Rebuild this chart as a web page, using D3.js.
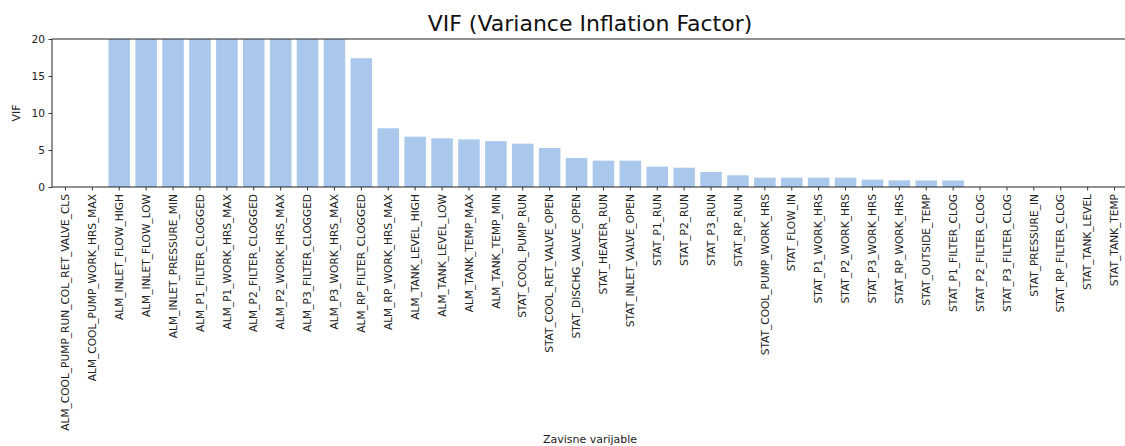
<!DOCTYPE html>
<html><head><meta charset="utf-8">
<script src="https://cdn.jsdelivr.net/npm/d3@7"></script>
<style>body{margin:0;background:#fff}svg{display:block}</style>
</head><body>
<script>
const categories = ["ALM_COOL_PUMP_RUN_COL_RET_VALVE_CLS","ALM_COOL_PUMP_WORK_HRS_MAX","ALM_INLET_FLOW_HIGH","ALM_INLET_FLOW_LOW","ALM_INLET_PRESSURE_MIN","ALM_P1_FILTER_CLOGGED","ALM_P1_WORK_HRS_MAX","ALM_P2_FILTER_CLOGGED","ALM_P2_WORK_HRS_MAX","ALM_P3_FILTER_CLOGGED","ALM_P3_WORK_HRS_MAX","ALM_RP_FILTER_CLOGGED","ALM_RP_WORK_HRS_MAX","ALM_TANK_LEVEL_HIGH","ALM_TANK_LEVEL_LOW","ALM_TANK_TEMP_MAX","ALM_TANK_TEMP_MIN","STAT_COOL_PUMP_RUN","STAT_COOL_RET_VALVE_OPEN","STAT_DISCHG_VALVE_OPEN","STAT_HEATER_RUN","STAT_INLET_VALVE_OPEN","STAT_P1_RUN","STAT_P2_RUN","STAT_P3_RUN","STAT_RP_RUN","STAT_COOL_PUMP_WORK_HRS","STAT_FLOW_IN","STAT_P1_WORK_HRS","STAT_P2_WORK_HRS","STAT_P3_WORK_HRS","STAT_RP_WORK_HRS","STAT_OUTSIDE_TEMP","STAT_P1_FILTER_CLOG","STAT_P2_FILTER_CLOG","STAT_P3_FILTER_CLOG","STAT_PRESSURE_IN","STAT_RP_FILTER_CLOG","STAT_TANK_LEVEL","STAT_TANK_TEMP"];
// values above 20 are cut off in the picture (very large VIF)
const vifValues = [0,0,100,100,100,100,100,100,100,100,100,17.4,7.93,6.8,6.57,6.43,6.2,5.86,5.27,3.92,3.56,3.56,2.75,2.61,2.03,1.58,1.26,1.26,1.26,1.26,0.99,0.9,0.88,0.88,0,0,0,0,0,0];
const yTicks = [0,5,10,15,20];
const title = "VIF (Variance Inflation Factor)";
const xLabel = "Zavisne varijable";
const yLabel = "VIF";

const W = 1125, H = 446;
const m = {left:52, top:39, right:-3, bottom:259};
const svg = d3.select("body").append("svg").attr("width",W).attr("height",H)
  .style("font-family","'DejaVu Sans', sans-serif");

const x = d3.scaleBand().domain(categories).range([m.left, W - m.right]).paddingInner(0.2).paddingOuter(0.1);
const y = d3.scaleLinear().domain([0,20]).range([H - m.bottom, m.top]);

svg.append("defs").append("clipPath").attr("id","clip")
  .append("rect").attr("x",m.left).attr("y",m.top).attr("width",W-m.left).attr("height",y(0)-m.top);

svg.append("g").attr("clip-path","url(#clip)")
  .selectAll("rect").data(categories).join("rect")
  .attr("x",d=>x(d)).attr("width",x.bandwidth())
  .attr("y",(d,i)=>y(Math.max(vifValues[i],0)))
  .attr("height",(d,i)=>y(0)-y(Math.max(vifValues[i],0)))
  .attr("fill","#a9c8eb");

const xAxis = svg.append("g").attr("transform",`translate(0,${y(0)})`)
  .call(d3.axisBottom(x).tickSize(3.5).tickPadding(3.5).tickSizeOuter(0));
xAxis.select(".domain").remove();
xAxis.selectAll("text").attr("transform","rotate(-90)").attr("text-anchor","end")
  .attr("x",-7).attr("y",0).attr("dy","0.35em")
  .style("font-size","10.6px").style("fill","#222").style("font-family","'DejaVu Sans', sans-serif");
xAxis.selectAll("line").attr("stroke","#222").attr("stroke-width",0.9);

const yAxis = svg.append("g").attr("transform",`translate(${m.left},0)`)
  .call(d3.axisLeft(y).tickValues(yTicks).tickSize(3.5).tickPadding(3.5).tickSizeOuter(0));
yAxis.select(".domain").remove();
yAxis.selectAll("text").style("font-size","10.6px").style("fill","#222").style("font-family","'DejaVu Sans', sans-serif");
yAxis.selectAll("line").attr("stroke","#222").attr("stroke-width",0.9);

// spines
svg.append("line").attr("x1",m.left).attr("x2",m.left).attr("y1",m.top).attr("y2",y(0)).attr("stroke","#222").attr("stroke-width",1);
svg.append("line").attr("x1",m.left).attr("x2",W).attr("y1",y(0)).attr("y2",y(0)).attr("stroke","#222").attr("stroke-width",1);
svg.append("line").attr("x1",m.left).attr("x2",W).attr("y1",m.top).attr("y2",m.top).attr("stroke","#222").attr("stroke-width",1);

svg.append("text").attr("x",590).attr("y",31).attr("text-anchor","middle")
  .style("font-size","22px").style("fill","#111").text(title);
svg.append("text").attr("x",590).attr("y",443).attr("text-anchor","middle")
  .style("font-size","11px").style("fill","#222").text(xLabel);
svg.append("text").attr("transform",`translate(20,${(m.top+y(0))/2}) rotate(-90)`).attr("text-anchor","middle")
  .style("font-size","11px").style("fill","#222").text(yLabel);
</script>
</body></html>
